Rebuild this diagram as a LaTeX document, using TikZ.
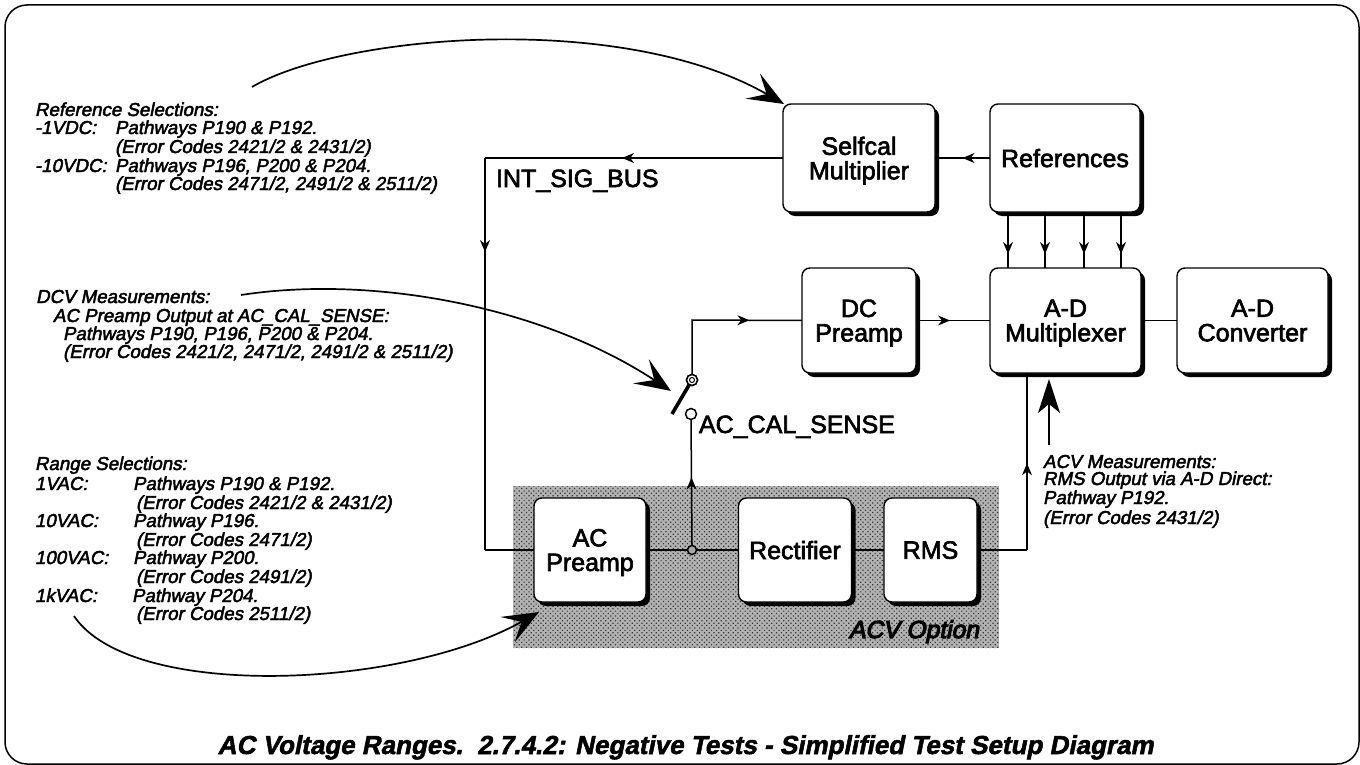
\documentclass[tikz,border=0pt]{standalone}
\usepackage{fontspec}
\usetikzlibrary{arrows.meta,shadows,patterns.meta,decorations.markings}
\newfontfamily\notefont[FakeSlant=0.2,FakeBold=2.5]{Liberation Sans}
\newfontfamily\labelfont[FakeBold=2.5]{Liberation Sans}
\newfontfamily\optfont[FakeSlant=0.2,FakeBold=4.5]{Liberation Sans}
\newfontfamily\capfont[FakeSlant=0.2,FakeBold=2]{Liberation Sans Bold}
\tikzset{
  x=1pt,y=-1pt,
  blockbox/.style={draw=black,line width=1.4pt,fill=white,rounded corners=8pt,align=center,inner sep=0pt,outer sep=0pt,
    text depth=0pt,font=\labelfont\fontsize{25}{24.5}\selectfont,
    drop shadow={shadow xshift=4pt,shadow yshift=-4pt,opacity=1,fill=black}},
  wire/.style={draw=black,line width=1.5pt},
  midarrow/.style={postaction={decorate},decoration={markings,mark=at position #1 with {\arrow{Stealth[length=12pt,width=10pt]}}}},
  calloutarrow/.style={draw=black,line width=1.7pt,-{Stealth[length=36pt,width=29pt,inset=16pt]}},
  noteline/.style={anchor=base west,inner sep=0pt,outer sep=0pt,font=\notefont\fontsize{18.7}{18.7}\selectfont},
  siglabel/.style={anchor=base west,inner sep=0pt,outer sep=0pt,font=\labelfont\fontsize{25}{25}\selectfont},
  contact/.style={circle,draw=black,line width=1.5pt,fill=white,minimum size=11pt,inner sep=0pt,outer sep=0pt},
}
\begin{document}
\begin{tikzpicture}
\useasboundingbox (0,0) rectangle (1360,765);
\node[draw=black,line width=1.5pt,rounded corners=22pt,minimum width=1354pt,minimum height=759pt,inner sep=0pt,outer sep=0pt] (frame) at (682,384.5) {};
% ACV option background
\node[fill=black!30,minimum width=486pt,minimum height=162pt,inner sep=0pt,outer sep=0pt] (acvbg) at (756,567) {};
\fill[pattern={Dots[distance=3.4pt,radius=0.85pt,angle=45]},pattern color=black!80] (acvbg.south west) rectangle (acvbg.north east);
% Blocks
\node[blockbox,minimum width=152pt,minimum height=108pt] (selfcal) at (859,158) {Selfcal\\Multiplier};
\node[blockbox,minimum width=150pt,minimum height=108pt] (refs) at (1065,158) {References};
\node[blockbox,minimum width=114pt,minimum height=105pt] (dcpre) at (859,320.5) {DC\\Preamp};
\node[blockbox,minimum width=151pt,minimum height=105pt] (admux) at (1065.5,320.5) {A-D\\Multiplexer};
\node[blockbox,minimum width=151pt,minimum height=105pt] (adconv) at (1252.5,320.5) {A-D\\Converter};
\node[blockbox,minimum width=112pt,minimum height=104pt] (acpre) at (590,550) {AC\\Preamp};
\node[blockbox,minimum width=113pt,minimum height=104pt] (rect) at (795,550) {Rectifier};
\node[blockbox,minimum width=93pt,minimum height=104pt] (rms) at (930.5,550) {RMS};
% Wire corners
\coordinate (buscorner) at (485,158);
\coordinate (busbottom) at (485,550);
\coordinate (dccorner) at (692,320);
\coordinate (rmscorner) at (1027,550);
\coordinate (muxin) at (1027,373);
% Wires
\draw[wire,midarrow=0.54] (selfcal.west) -- (buscorner);
\draw[wire,midarrow=0.24] (buscorner) -- (busbottom);
\draw[wire] (busbottom) -- (acpre.west);
\draw[wire,midarrow=0.5] (refs.west) -- (selfcal.east);
\draw[wire,midarrow=0.46] (dcpre.east) -- (admux.west);
\draw[wire] (admux.east) -- (adconv.west);
\draw[wire] (acpre.east) -- (rect.west);
\draw[wire] (rect.east) -- (rms.west);
\draw[wire] (rms.east) -- (rmscorner);
\draw[wire,midarrow=0.49] (rmscorner) -- (muxin);
\foreach \n/\x in {a/1008,b/1045,c/1084,d/1121}{
  \coordinate (rt\n) at (\x,212);
  \coordinate (mt\n) at (\x,268);
  \draw[wire,midarrow=0.75] (rt\n) -- (mt\n);
}
% Switch
\node[contact,minimum size=9pt,fill=black!35] (junction) at (692,550) {};
\node[contact] (swlow) at (691,414) {};
\node[contact] (swtop) at (692,380) {};
\draw[wire,midarrow=0.68] (swtop.north) -- (dccorner) -- (dcpre.west);
\draw[wire,midarrow=0.54] (junction.north) -- (swlow.south);
\coordinate (leverend) at (672,414);
\draw[draw=black,line width=3.6pt] (swtop) -- (leverend);
\node[contact] (swring) at (swtop) {};
\node[circle,draw=black,line width=1pt,minimum size=5pt,inner sep=0pt] (swdot) at (swtop) {};
% Callout curves
\coordinate (refstart) at (252,87);
\coordinate (dcvstart) at (241,295);
\coordinate (rngstart) at (74,616);
\coordinate (acvtail) at (1049,445);
\coordinate (selfcalcorner) at (784,104);
\coordinate (swtip) at (671,391);
\coordinate (acpretip) at (539,612);
\coordinate (muxtip) at (1049,379);
\draw[calloutarrow] (refstart) .. controls (340,35) and (620,10) .. (selfcalcorner);
\draw[calloutarrow] (dcvstart) .. controls (370,275) and (540,305) .. (swtip);
\draw[calloutarrow] (rngstart) .. controls (130,700) and (400,690) .. (acpretip);
\draw[draw=black,line width=1.2pt,-{Stealth[length=34pt,width=22pt,inset=9pt]}] (acvtail) -- (muxtip);
% Signal labels
\node[siglabel] (intbus) at (496,187) {INT\_SIG\_BUS};
\node[siglabel] (acsense) at (699,433) {AC\_CAL\_SENSE};
\node[anchor=base east,inner sep=0pt,font=\optfont\fontsize{24.6}{24.6}\selectfont] (acvopt) at (979,638) {ACV Option};
% Reference notes
\node[noteline] (n1) at (35,116) {Reference Selections:};
\node[noteline] (n2) at (35,134) {-1VDC:};
\node[noteline] (n3) at (115,134) {Pathways P190 \& P192.};
\node[noteline] (n4) at (115,153) {(Error Codes 2421/2 \& 2431/2)};
\node[noteline] (n5) at (35,172) {-10VDC:};
\node[noteline] (n6) at (115,172) {Pathways P196, P200 \& P204.};
\node[noteline] (n7) at (115,190) {(Error Codes 2471/2, 2491/2 \& 2511/2)};
% DCV notes
\node[noteline] (d1) at (36,303) {DCV Measurements:};
\node[noteline] (d2) at (53,322) {AC Preamp Output at AC\_CAL\_SENSE:};
\node[noteline] (d3) at (63,340) {Pathways P190, P196, P200 \& P204.};
\node[noteline] (d4) at (63,358) {(Error Codes 2421/2, 2471/2, 2491/2 \& 2511/2)};
% Range notes
\node[noteline] (r1) at (35,470) {Range Selections:};
\node[noteline] (r2) at (35,490) {1VAC:};
\node[noteline] (r3) at (133,490) {Pathways P190 \& P192.};
\node[noteline] (r4) at (136,509) {(Error Codes 2421/2 \& 2431/2)};
\node[noteline] (r5) at (35,527) {10VAC:};
\node[noteline] (r6) at (133,527) {Pathway P196.};
\node[noteline] (r7) at (136,546) {(Error Codes 2471/2)};
\node[noteline] (r8) at (35,564) {100VAC:};
\node[noteline] (r9) at (133,564) {Pathway P200.};
\node[noteline] (r10) at (136,583) {(Error Codes 2491/2)};
\node[noteline] (r11) at (35,602) {1kVAC:};
\node[noteline] (r12) at (132,602) {Pathway P204.};
\node[noteline] (r13) at (136,620) {(Error Codes 2511/2)};
% ACV notes
\node[noteline] (a1) at (1043,468) {ACV Measurements:};
\node[noteline] (a2) at (1043,485) {RMS Output via A-D Direct:};
\node[noteline] (a3) at (1043,504) {Pathway P192.};
\node[noteline] (a4) at (1043,524) {(Error Codes 2431/2)};
% Caption
\node[anchor=base,inner sep=0pt,font=\capfont\fontsize{26}{26}\selectfont] (caption) at (685.5,754) {AC Voltage Ranges.\ \ 2.7.4.2: Negative Tests - Simplified Test Setup Diagram};
\end{tikzpicture}
\end{document}
